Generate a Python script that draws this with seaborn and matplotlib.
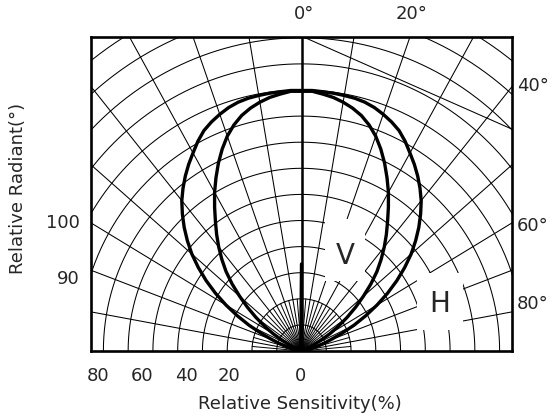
import numpy as np
import pandas as pd
import matplotlib
matplotlib.use("Agg")
import matplotlib.pyplot as plt
from matplotlib.patches import Rectangle
import seaborn as sns

# angle from the optical axis (deg) and relative intensity (%)
angle_deg = [0, 2.5, 5, 7.5, 10, 12.5, 15, 17.5, 20, 22.5, 25, 27.5, 30, 32.5,
             35, 37.5, 40, 42.5, 45, 47.5, 50, 52.5, 55, 57.5, 60, 62.5, 65,
             67.5, 70, 72.5, 75, 77.5, 80, 82.5, 85, 87.5, 90]
h_sensitivity = [100, 99.9, 99.7, 99.6, 99.4, 99.2, 98.7, 97.8, 96.5, 95.0,
                 93.2, 90.6, 87.6, 84.8, 81.8, 78.6, 75.2, 71.2, 67.0, 62.5,
                 57.8, 52.5, 47.0, 41.2, 35.2, 29.2, 23.4, 17.5, 12.5, 9.0,
                 6.3, 4.2, 2.6, 1.5, 0.8, 0.3, 0]
v_sensitivity = [100, 99.6, 98.8, 98.0, 96.8, 95.3, 93.4, 90.8, 87.6, 83.7,
                 79.4, 74.8, 70.2, 65.3, 60.6, 56.3, 52.0, 47.6, 43.1, 38.0,
                 32.6, 27.5, 22.5, 17.8, 13.2, 8.5, 4.5, 1.8, 0.5, 0,
                 0, 0, 0, 0, 0, 0, 0]

bottom_tick_labels = ["80", "60", "40", "20", "0"]
left_tick_labels = ["100", "90"]
right_tick_labels = ["40°", "60°", "80°"]
top_tick_labels = ["0°", "20°"]

W, H = 552, 419


def polar_frame(angles, values, name):
    # mirror the pattern so it covers -90..90 deg
    a = np.array(angles[::-1] + angles[1:], dtype=float)
    a[:len(angles)] *= -1
    r = np.array(values[::-1] + values[1:], dtype=float)
    t = np.radians(a)
    return pd.DataFrame({"x": r * np.sin(t), "y": r * np.cos(t), "pattern": name})


sns.set_style("white")
plt.rcParams["font.family"] = ["DejaVu Sans"]

fig = plt.figure(figsize=(W / 100, H / 100), dpi=100)
ax = fig.add_axes([91 / W, 68 / H, 421 / W, 314 / H])
ax.set_xlim(-85, 85)
ax.set_ylim(0, 120.3)

# polar grid
t = np.radians(np.arange(-90, 90.5, 0.5))
for r in range(10, 160, 10):
    ax.plot(r * np.sin(t), r * np.cos(t), color="black", lw=0.75, zorder=1)
for a in range(-80, 90, 10):
    if a == 0:
        continue
    ar = np.radians(a)
    ax.plot([0, 200 * np.sin(ar)], [0, 200 * np.cos(ar)], color="black", lw=0.75, zorder=1)
for a in range(-85, 90, 10):
    ar = np.radians(a)
    ax.plot([0, 20 * np.sin(ar)], [0, 20 * np.cos(ar)], color="black", lw=0.7, zorder=1)
ax.plot([0, 0], [0, 130], color="black", lw=1.8, zorder=1)
# stray construction line in the upper right of the original
ax.plot([0.8, 85], [120.3, 85], color="black", lw=0.75, zorder=1)

# white patches behind the V / H labels
ax.add_patch(Rectangle((9.3, 26.8), 16.5, 23.8, facecolor="white", edgecolor="none", zorder=2))
ax.add_patch(Rectangle((46.8, 8.0), 18.5, 21.9, facecolor="white", edgecolor="none", zorder=2))

df_h = polar_frame(angle_deg, h_sensitivity, "H")
df_v = polar_frame(angle_deg, v_sensitivity, "V")
sns.lineplot(data=df_h, x="x", y="y", sort=False, color="black", lw=2.4, ax=ax, zorder=3)
sns.lineplot(data=df_v, x="x", y="y", sort=False, color="black", lw=2.4, ax=ax, zorder=3)

ax.text(17.7, 36.4, "V", fontsize=20, ha="center", va="center", zorder=4)
ax.text(55.6, 18.0, "H", fontsize=20, ha="center", va="center", zorder=4)

ax.set_xticks([])
ax.set_yticks([])
ax.set_xlabel("")
ax.set_ylabel("")
for s in ax.spines.values():
    s.set_linewidth(1.9)
    s.set_color("black")

fs = 13
for lab, px in zip(bottom_tick_labels, [98, 142, 186, 229, 300]):
    fig.text(px / W, 1 - 376 / H, lab, fontsize=fs, ha="center", va="center")
for lab, py in zip(left_tick_labels, [223, 279]):
    fig.text(80 / W, 1 - py / H, lab, fontsize=fs, ha="right", va="center")
for lab, py in zip(right_tick_labels, [86, 226, 304]):
    fig.text(517 / W, 1 - py / H, lab, fontsize=fs, ha="left", va="center")
for lab, px in zip(top_tick_labels, [294, 396]):
    fig.text(px / W, 1 - 14 / H, lab, fontsize=fs, ha="left", va="center")

fig.text(300 / W, 1 - 404 / H, "Relative Sensitivity(%)", fontsize=fs, ha="center", va="center")
fig.text(18 / W, 1 - 188 / H, "Relative Radiant(°)", fontsize=fs, ha="center", va="center",
         rotation=90)

fig.savefig("out.png", dpi=100, facecolor="white")
